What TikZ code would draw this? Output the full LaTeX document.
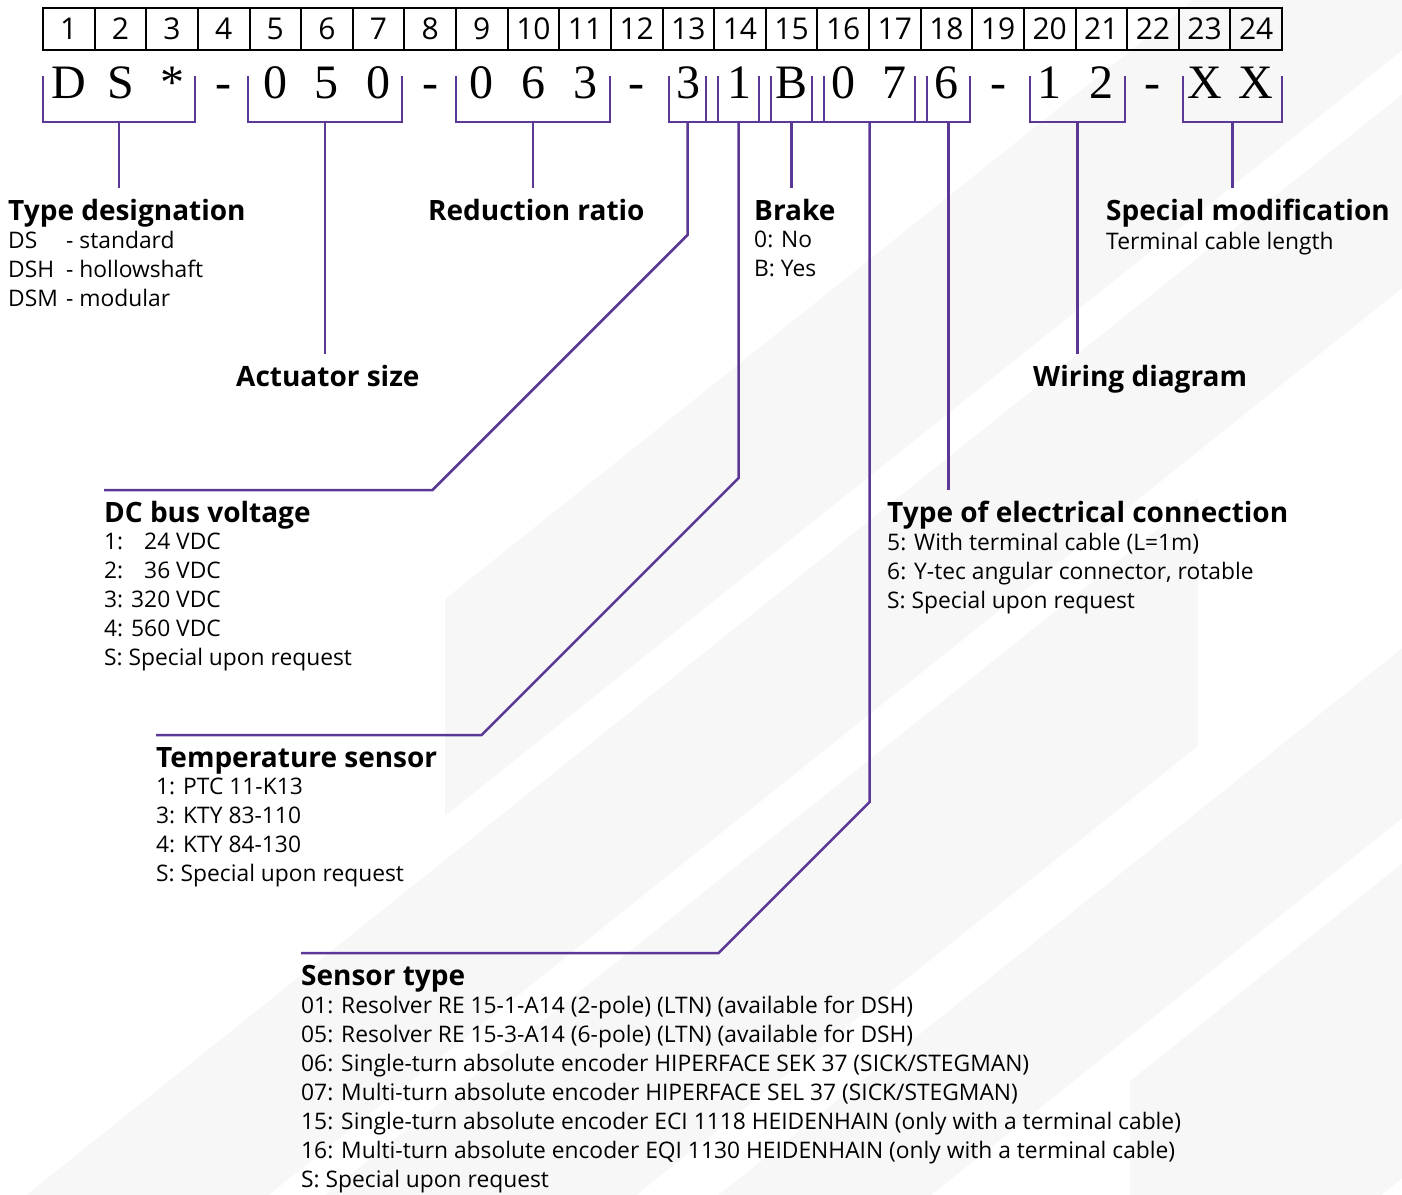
\documentclass[tikz,border=0pt]{standalone}
\usepackage{fontspec}
\setmainfont{Open Sans}
\newfontfamily\codeserif{Liberation Serif}
\usetikzlibrary{positioning}

\definecolor{leadpurple}{RGB}{91,55,150}
\definecolor{bgstripe}{RGB}{247,247,247}

\newcommand\boxfont{\fontsize{30}{34}\selectfont}
\newcommand\codefont{\codeserif\fontsize{48}{52}\selectfont}
\newcommand\headfont{\fontsize{28}{32}\selectfont\bfseries}
\newcommand\itemfont{\fontsize{22.8}{29}\selectfont}

\tikzset{
  numbox/.style={draw=black, line width=2pt, minimum width=51.625pt, minimum height=42pt, inner sep=0pt, font=\boxfont},
  codechar/.style={anchor=base, inner sep=0pt, font=\codefont},
  lead/.style={draw=leadpurple, line width=2.5pt, line join=miter},
  head/.style={anchor=north west, inner xsep=0pt, inner ysep=11pt, text height=21pt, text depth=6pt, font=\headfont},
  items/.style={anchor=north west, inner sep=0pt, align=left, font=\itemfont, execute at begin node={\rule{0pt}{18pt}}}
}

\begin{document}
\begin{tikzpicture}[x=1pt,y=-1pt]
\useasboundingbox (0,0) rectangle (1402,1194);

% faint stripes in the background
\begin{scope}
\clip (0,0) rectangle (1402,1194);
\fill[bgstripe] (445,599) -- (1500,-245) -- (1500,-28) -- (445,816) -- cycle;
\fill[bgstripe] (0,1216) -- (1500,16) -- (1500,210) -- (0,1410) -- cycle;
\fill[bgstripe] (300,1215) -- (1198,497) -- (1198,746) -- (300,1464) -- cycle;
\fill[bgstripe] (715,1198) -- (1500,570) -- (1500,740) -- (715,1368) -- cycle;
\fill[bgstripe] (1130,1081) -- (1500,785) -- (1500,1100) -- (1130,1396) -- cycle;
\end{scope}

% position numbers
\foreach \i in {1,...,24}
  \node[numbox] (b\i) at ({43+51.625*(\i-0.5)},29) {\i};

% type code
\coordinate (row) at (0,98);
\foreach \ch [count=\i] in {D,S,*,-,0,5,0,-,0,6,3,-,3,1,B,0,7,6,-,1,2,-,X,X}
  \node[codechar] (c\i) at (b\i |- row) {\ch};

% brackets under the code
\foreach \l/\r/\n in {43/195/ds,248/402/size,456/610/ratio,669/706/volt,718/759/temp,771/812/brake,824/915/sensor,927/970/conn,1030/1125/wiring,1183/1282/special}{
  \draw[lead] (\l,76) |- (\r,122) -- (\r,76);
  \coordinate (k\n) at ({(\l+\r)/2},122);
}
\draw[lead] (kvolt) -- (kconn);

% labels
\node[head] (typelbl) at (8,188) {Type designation};
\node[items] (typeitems) at ([yshift=-11pt]typelbl.base west) {\makebox[58pt][l]{DS}- standard\\\makebox[58pt][l]{DSH}- hollowshaft\\\makebox[58pt][l]{DSM}- modular};

\node[head] (sizelbl) at (236,354) {Actuator size};
\node[head] (ratiolbl) at (428,188) {Reduction ratio};

\node[head] (brakelbl) at (754,188) {Brake};
\node[items] (brakeitems) at ([yshift=-11pt]brakelbl.base west) {0: No\\B: Yes};

\node[head] (speclbl) at (1106,188) {Special modification};
\node[items] (specitems) at ([yshift=-11pt]speclbl.base west) {Terminal cable length};

\node[head] (wirelbl) at (1033,354) {Wiring diagram};

\node[head] (voltlbl) at (104,490) {DC bus voltage};
\node[items] (voltitems) at ([yshift=-11pt]voltlbl.base west) {1: \phantom{3}24 VDC\\2: \phantom{3}36 VDC\\3: 320 VDC\\4: 560 VDC\\S: Special upon request};

\node[head] (connlbl) at (887,490) {Type of electrical connection};
\node[items] (connitems) at ([yshift=-11pt]connlbl.base west) {5: With terminal cable (L=1m)\\6: Y-tec angular connector, rotable\\S: Special upon request};

\node[head] (templbl) at (156,735) {Temperature sensor};
\node[items] (tempitems) at ([yshift=-11pt]templbl.base west) {1: PTC 11-K13\\3: KTY 83-110\\4: KTY 84-130\\S: Special upon request};

\node[head] (senslbl) at (301,953) {Sensor type};
\node[items] (sensitems) at ([yshift=-11pt]senslbl.base west) {01: Resolver RE 15-1-A14 (2-pole) (LTN) (available for DSH)\\05: Resolver RE 15-3-A14 (6-pole) (LTN) (available for DSH)\\06: Single-turn absolute encoder HIPERFACE SEK 37 (SICK/STEGMAN)\\07: Multi-turn absolute encoder HIPERFACE SEL 37 (SICK/STEGMAN)\\15: Single-turn absolute encoder ECI 1118 HEIDENHAIN (only with a terminal cable)\\16: Multi-turn absolute encoder EQI 1130 HEIDENHAIN (only with a terminal cable)\\S: Special upon request};

% leader lines
\draw[lead] (kds) -- (kds |- typelbl.north);
\draw[lead] (ksize) -- (ksize |- sizelbl.north);
\draw[lead] (kratio) -- (kratio |- ratiolbl.north);
\draw[lead] (kbrake) -- (kbrake |- brakelbl.north);
\draw[lead] (kspecial) -- (kspecial |- speclbl.north);
\draw[lead] (kwiring) -- (kwiring |- wirelbl.north);
\draw[lead] (kconn) -- (kconn |- connlbl.north);
\draw[lead] (kvolt) -- ++(0,113) -- ++(-255,255) -- (voltlbl.north west);
\draw[lead] (ktemp) -- ++(0,356) -- ++(-257,257) -- (templbl.north west);
\draw[lead] (ksensor) -- ++(0,680) -- ++(-151,151) -- (senslbl.north west);

\end{tikzpicture}
\end{document}
